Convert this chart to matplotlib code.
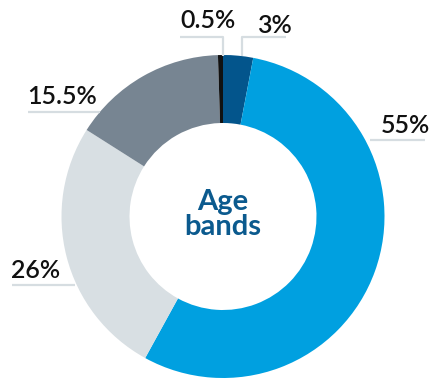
import numpy as np
import matplotlib.pyplot as plt

# fatias do donut (sentido horário a partir do topo)
labels = ['3%', '55%', '26%', '15.5%', '0.5%']
values = [3, 55, 26, 15.5, 0.5]
colors = ['#03558c', '#00a0e0', '#d8dfe3', '#778592', '#111111']
center_text = 'Age\nbands'

W, H = 430, 381
fig = plt.figure(figsize=(W / 100, H / 100), dpi=100)
ax = fig.add_axes([0, 0, 1, 1])

cx, cy, r = 223, H - 216.5, 161.5
ax.pie(values, colors=colors, startangle=90, counterclock=False,
       center=(cx, cy), radius=r, frame=True,
       wedgeprops=dict(width=68, linewidth=0))
ax.set_xlim(0, W)
ax.set_ylim(0, H)
ax.set_aspect('equal')
ax.axis('off')

ax.text(cx, cy + 2, center_text, ha='center', va='center', color='#0b5a8e',
        fontsize=21, fontweight='bold', family='Lato', linespacing=0.92)

line_c = '#d6dde1'
lw = 1.6
txt = dict(fontsize=18, family='Lato', color='#111111', fontweight='semibold')

# linhas de chamada e rótulos (coordenadas em pixels, y a partir do topo)
def leader(xs, ys):
    ax.plot(xs, [H - y for y in ys], color=line_c, lw=lw, solid_capstyle='butt')

leader([180, 223, 223], [37, 37, 56])
ax.text(180, H - 28, labels[4], ha='left', va='baseline', **txt)

leader([286, 242, 242], [37, 37, 56])
ax.text(257, H - 33, labels[0], ha='left', va='baseline', **txt)

leader([370, 425], [140, 140])
ax.text(381, H - 133, labels[1], ha='left', va='baseline', **txt)

leader([28, 100], [112, 112])
ax.text(27, H - 104, labels[3], ha='left', va='baseline', **txt)

leader([12, 75], [285, 285])
ax.text(11, H - 278, labels[2], ha='left', va='baseline', **txt)

fig.savefig('out.png', dpi=100)
